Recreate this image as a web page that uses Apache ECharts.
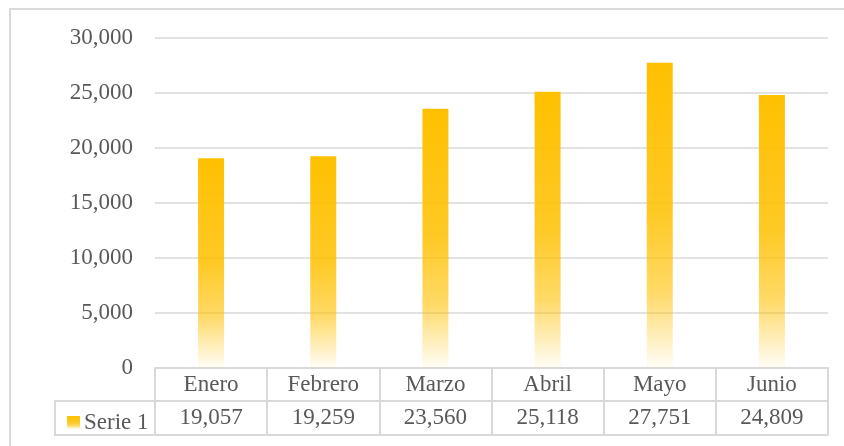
<!DOCTYPE html>
<html>
<head>
<meta charset="utf-8">
<script src="https://cdn.jsdelivr.net/npm/echarts@6/dist/echarts.min.js"></script>
<style>
  html, body { margin: 0; padding: 0; background: #fff; }
  #chart { width: 844px; height: 446px; }
</style>
</head>
<body>
<div id="chart"></div>
<script>
var meses = ['Enero', 'Febrero', 'Marzo', 'Abril', 'Mayo', 'Junio'];
var serie1 = [19057, 19259, 23560, 25118, 27751, 24809];
var nombreSerie = 'Serie 1';

var fuente = 'Liberation Serif';
var gris = '#595959';
var linea = '#D9D9D9';
var tam = 23;

function fmt(v) { return v.toLocaleString('en-US'); }

var degradado = new echarts.graphic.LinearGradient(0, 0, 0, 1, [
    { offset: 0, color: 'rgba(255,192,0,1)' },
    { offset: 0.5, color: 'rgba(255,192,0,0.85)' },
    { offset: 0.75, color: 'rgba(255,192,0,0.6)' },
    { offset: 1, color: 'rgba(255,192,0,0.03)' }
]);

var myChart = echarts.init(document.getElementById('chart'));
myChart.setOption({
    animation: false,
    grid: { left: 155, right: 16, top: 38, bottom: 78 },
    legend: {
        left: 62, top: 406,
        itemWidth: 13, itemHeight: 13, itemGap: 4,
        icon: 'rect',
        data: [nombreSerie],
        textStyle: { fontFamily: fuente, fontSize: tam, color: gris, padding: [0, 0, 0, -1] }
    },
    xAxis: [{
        type: 'category',
        data: meses,
        position: 'bottom',
        axisLine: { show: true, lineStyle: { color: linea, width: 2 } },
        axisTick: { show: true, length: 67, interval: 0, lineStyle: { color: linea, width: 2 } },
        axisLabel: { fontFamily: fuente, fontSize: tam, color: gris, margin: 5, interval: 0 }
    }, {
        type: 'category',
        data: serie1.map(fmt),
        position: 'bottom',
        offset: 33,
        axisLine: { show: true, lineStyle: { color: linea, width: 2 } },
        axisTick: { show: false },
        axisLabel: { fontFamily: fuente, fontSize: tam, color: gris, margin: 5, interval: 0 }
    }, {
        type: 'category',
        data: meses,
        position: 'bottom',
        offset: 67,
        axisLine: { show: true, lineStyle: { color: linea, width: 2 } },
        axisTick: { show: false },
        axisLabel: { show: false }
    }],
    yAxis: {
        type: 'value',
        min: 0, max: 30000, interval: 5000,
        axisLine: { show: false },
        axisTick: { show: false },
        axisLabel: { fontFamily: fuente, fontSize: tam, color: gris, margin: 22, formatter: fmt },
        splitLine: { lineStyle: { color: linea, width: 1.5 } }
    },
    series: [{
        name: nombreSerie,
        type: 'bar',
        xAxisIndex: 0,
        barWidth: 26,
        itemStyle: { color: degradado },
        data: serie1
    }],
    graphic: [{
        type: 'rect',
        shape: { x: 10, y: 9, width: 900, height: 500 },
        style: { fill: 'none', stroke: linea, lineWidth: 2 },
        silent: true
    }, {
        type: 'rect',
        shape: { x: 55, y: 401, width: 100, height: 34 },
        style: { fill: 'none', stroke: linea, lineWidth: 2 },
        silent: true
    }]
});
</script>
</body>
</html>
